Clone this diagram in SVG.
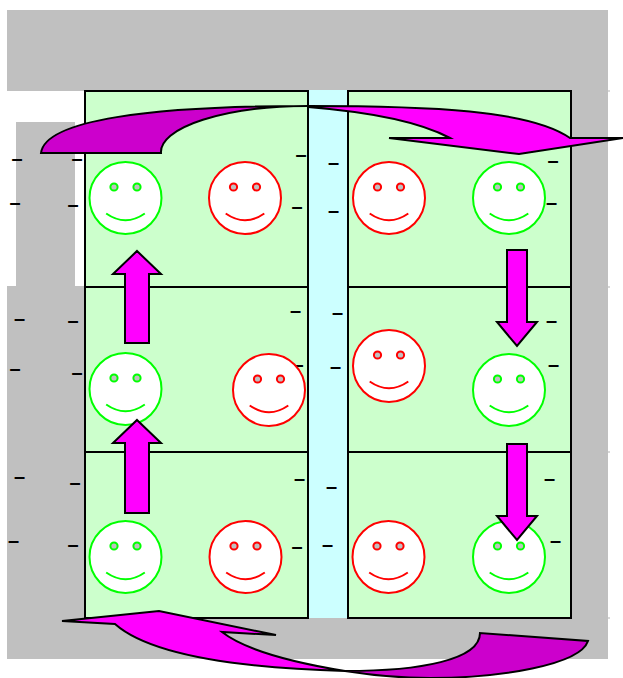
<svg xmlns="http://www.w3.org/2000/svg" width="623" height="678" viewBox="0 0 623 678">
<style>
.bg{fill:#c0c0c0}
.cell{fill:#ccffcc;stroke:#000;stroke-width:2}
.f{fill:#fff;stroke-width:2}
.e{fill:#c0c0c0;stroke-width:2}
.m{fill:none;stroke-width:2}
.g{stroke:#00ff00}
.r{stroke:#ff0000}
.a{fill:#ff00ff;stroke:#000;stroke-width:2;stroke-miterlimit:6}
.d{fill:#cc00cc;stroke:#000;stroke-width:2;stroke-miterlimit:6}
.t{font-family:"Liberation Sans",Arial,sans-serif;font-size:20px;font-weight:bold;text-anchor:middle;fill:#000}
.k{stroke:#d8d8d8;stroke-width:2}
</style>
<defs>
<g id="eyes"><circle class="e" cx="-11.5" cy="-11" r="3.6"/><circle class="e" cx="11.500" cy="-11" r="3.6"/><path class="m" d="M-19.3,15.5Q0,29 19.3,15.5"/></g>
</defs>
<g id="background">
<rect class="bg" x="7" y="10" width="601" height="81"/>
<rect class="bg" x="16" y="122" width="59" height="164"/>
<rect class="bg" x="7" y="286" width="78" height="373"/>
<rect class="bg" x="7" y="618" width="601" height="41"/>
<rect class="bg" x="571" y="91" width="37" height="527"/>
<rect x="308" y="90" width="40" height="528" fill="#ccffff"/>
<path class="k" d="M608,91h2M608,287h2M608,452h2M608,618h2"/>
</g>
<g id="cells">
<rect id="cell-l1" class="cell" x="85" y="91" width="223" height="196"/>
<rect id="cell-l2" class="cell" x="85" y="287" width="223" height="165"/>
<rect id="cell-l3" class="cell" x="85" y="452" width="223" height="166"/>
<rect id="cell-r1" class="cell" x="348" y="91" width="223" height="196"/>
<rect id="cell-r2" class="cell" x="348" y="287" width="223" height="165"/>
<rect id="cell-r3" class="cell" x="348" y="452" width="223" height="166"/>
</g>
<g id="labels">
<text class="t" x="17" y="165">–</text><text class="t" x="77" y="165">–</text><text class="t" x="301" y="161">–</text>
<text class="t" x="15" y="209">–</text><text class="t" x="73" y="211">–</text><text class="t" x="297" y="213">–</text>
<text class="t" x="333.500" y="169">–</text><text class="t" x="553" y="167">–</text><text class="t" x="333.500" y="217">–</text><text class="t" x="551.500" y="209">–</text>
<text class="t" x="19.500" y="325">–</text><text class="t" x="73" y="327">–</text><text class="t" x="295.500" y="317">–</text>
<text class="t" x="15" y="375">–</text><text class="t" x="77" y="379">–</text><text class="t" x="298" y="371">–</text>
<text class="t" x="337.500" y="319">–</text><text class="t" x="551.500" y="327">–</text><text class="t" x="335.500" y="373">–</text><text class="t" x="553.500" y="371">–</text>
<text class="t" x="19.500" y="483">–</text><text class="t" x="75" y="489">–</text><text class="t" x="299.500" y="485">–</text>
<text class="t" x="13.500" y="547">–</text><text class="t" x="73" y="551">–</text><text class="t" x="297" y="553">–</text>
<text class="t" x="331.500" y="493">–</text><text class="t" x="549.500" y="485">–</text><text class="t" x="327.500" y="551">–</text><text class="t" x="555.500" y="547">–</text>
</g>
<g id="faces">
<g id="face-1" class="g" transform="translate(125.500,198)"><circle class="f" r="36"/><use href="#eyes"/></g>
<g id="face-2" class="r" transform="translate(245,198)"><circle class="f" r="36"/><use href="#eyes"/></g>
<g id="face-3" class="r" transform="translate(389,198)"><circle class="f" r="36"/><use href="#eyes"/></g>
<g id="face-4" class="g" transform="translate(509,198)"><circle class="f" r="36"/><use href="#eyes"/></g>
<g id="face-5" class="g" transform="translate(125.500,389)"><circle class="f" r="36"/><use href="#eyes"/></g>
<g id="face-6" class="r" transform="translate(269,390)"><circle class="f" r="36"/><use href="#eyes"/></g>
<g id="face-7" class="r" transform="translate(389,366)"><circle class="f" r="36"/><use href="#eyes"/></g>
<g id="face-8" class="g" transform="translate(509,390)"><circle class="f" r="36"/><use href="#eyes"/></g>
<g id="face-9" class="g" transform="translate(125.500,557)"><circle class="f" r="36"/><use href="#eyes"/></g>
<g id="face-10" class="r" transform="translate(245.500,557)"><circle class="f" r="36"/><use href="#eyes"/></g>
<g id="face-11" class="r" transform="translate(388.500,557)"><circle class="f" r="36"/><use href="#eyes"/></g>
<g id="face-12" class="g" transform="translate(509,557)"><circle class="f" r="36"/><use href="#eyes"/></g>
</g>
<g id="connectors">
<path class="a" d="M137,251L161,274H149V343H125V274H113Z"/>
<path class="a" d="M137,420L161,443H149V513H125V443H113Z"/>
<path class="a" d="M507,250H527V322H537L517,346L497,322H507Z"/>
<path class="a" d="M507,444H527V516H537L517,540L497,516H507Z"/>
<path class="d" d="M41,153C45,120 150,106 308,106A147,46 0 0 0 161,153Z"/>
<path class="a" d="M308,106C430,106 530,110 570,138H623L519,154L389,138H450C420,122 370,112 308,107Z"/>
<path class="d" d="M345,671C420,671 480,660 480,633L588,641C580,665 500,678 430,678C400,678 370,675 345,671Z"/>
<path class="a" d="M345,671C290,662 245,650 222,632L276,635L159,611L62,621L115,624C150,655 240,668 345,671Z"/>
</g>
</svg>
